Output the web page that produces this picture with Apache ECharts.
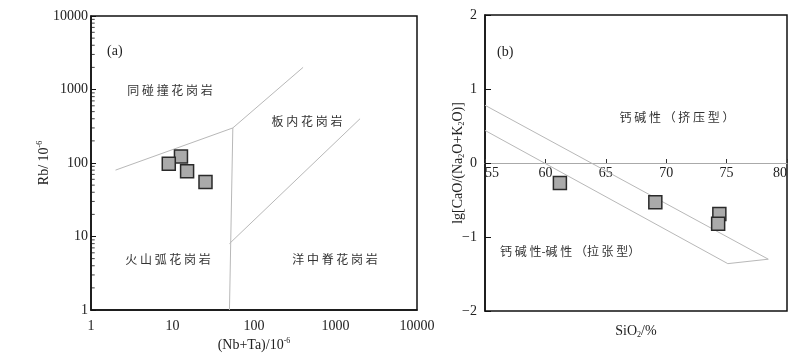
<!DOCTYPE html>
<html><head><meta charset="utf-8">
<script src="https://cdn.jsdelivr.net/npm/echarts@6/dist/echarts.min.js"></script>
<style>html,body{margin:0;padding:0;background:#fff}#c{width:793px;height:364px}</style>
</head><body><div id="c"></div>
<script>
// ---------- Panel (a): Rb vs (Nb+Ta) ----------
const nbTa = [12.7, 9.0, 15.1, 25.4];
const rb = [123, 98, 77, 55];
const xTicksA = [1, 10, 100, 1000, 10000];
const yTicksA = [1, 10, 100, 1000, 10000];
const colgBoundary = [[2, 80], [55, 300], [400, 2000]];
const vagBoundary = [[55, 300], [50, 1]];
const orgBoundary = [[50, 8], [2000, 400]];
const minorMultipliers = [2, 3, 4, 5, 6, 7, 8, 9];
const fieldNamesA = ['同碰撞花岗岩', '板内花岗岩', '火山弧花岗岩', '洋中脊花岗岩'];

// ---------- Panel (b): lg[CaO/(Na2O+K2O)] vs SiO2 ----------
const sio2 = [61.2, 69.1, 74.4, 74.3];
const lgRatio = [-0.27, -0.53, -0.69, -0.82];
const xTicksB = [55, 60, 65, 70, 75, 80];
const yTicksB = [-2, -1, 0, 1, 2];
const fieldBoundaryB = [[55, 0.78], [78.45, -1.30], [75.1, -1.36], [55, 0.44]];
const fieldNamesB = ['钙碱性（挤压型）', '钙碱性-碱性（拉张型）'];

const serif = '"Liberation Serif","Times New Roman",serif';
const cjk = '"Noto Sans CJK SC","Noto Sans CJK JP",sans-serif';
const txt = '#222';
const rich = {
  sup: {fontFamily: serif, fontSize: 8, color: txt, verticalAlign: 'top', lineHeight: 16},
  sub: {fontFamily: serif, fontSize: 8, color: txt, verticalAlign: 'bottom', lineHeight: 16},
  n: {fontFamily: serif, fontSize: 14, color: txt, lineHeight: 16}
};
const nameStyle = {fontFamily: serif, fontSize: 14, color: txt, rich: rich};
const tickFont = {fontFamily: serif, fontSize: 14, color: txt};

const minorTicks = [];
yTicksA.slice(0, -1).forEach(d => minorMultipliers.forEach(m => minorTicks.push([xTicksA[0], d * m])));

const spaced = s => s.split('').join(' ');

const gridB = {left: 485, top: 15, width: 302, height: 296};
// offset that lifts panel (b)'s x axis from the grid bottom to the y = 0 line
const zeroOffsetB = -gridB.height * (0 - yTicksB[0]) / (yTicksB[yTicksB.length - 1] - yTicksB[0]);

const chart = echarts.init(document.getElementById('c'), null, {renderer: 'canvas'});
chart.setOption({
  animation: false,
  backgroundColor: '#fff',
  grid: [
    {left: 91, top: 16, width: 326, height: 294, show: true, borderColor: '#111', borderWidth: 1.5, outerBoundsMode: 'none', containLabel: false},
    Object.assign({show: true, borderColor: '#111', borderWidth: 1.5, outerBoundsMode: 'none', containLabel: false}, gridB)
  ],
  xAxis: [
    {
      gridIndex: 0, type: 'log', logBase: 10, min: xTicksA[0], max: xTicksA[xTicksA.length - 1],
      axisLine: {show: true, lineStyle: {color: '#111', width: 1.5}},
      axisTick: {show: false}, splitLine: {show: false},
      axisLabel: Object.assign({margin: 9, formatter: v => String(v)}, tickFont),
      name: '{n|(Nb+Ta)/10}{sup|-6}', nameLocation: 'middle', nameGap: 27, nameMoveOverlap: false, nameTextStyle: nameStyle
    },
    {
      gridIndex: 1, type: 'value', min: xTicksB[0], max: xTicksB[xTicksB.length - 1], interval: 5,
      position: 'bottom', offset: zeroOffsetB,
      axisLine: {show: true, onZero: false, lineStyle: {color: '#aaa', width: 1}},
      axisTick: {show: true, inside: true, length: 4, lineStyle: {color: '#333', width: 1}},
      splitLine: {show: false},
      axisLabel: Object.assign({margin: 3, alignMinLabel: 'left', alignMaxLabel: 'right'}, tickFont),
      name: '{n|SiO}{sub|2}{n|/%}', nameLocation: 'middle', nameGap: 160, nameMoveOverlap: false, nameTextStyle: nameStyle
    }
  ],
  yAxis: [
    {
      gridIndex: 0, type: 'log', logBase: 10, min: yTicksA[0], max: yTicksA[yTicksA.length - 1],
      axisLine: {show: true, lineStyle: {color: '#111', width: 1.5}},
      axisTick: {show: true, inside: true, length: 5, lineStyle: {color: '#111', width: 1}},
      splitLine: {show: false},
      axisLabel: Object.assign({margin: 3, formatter: v => String(v)}, tickFont),
      name: '{n|Rb/ 10}{sup|-6}', nameLocation: 'middle', nameRotate: 90, nameGap: 39, nameMoveOverlap: false, nameTextStyle: nameStyle
    },
    {
      gridIndex: 1, type: 'value', min: yTicksB[0], max: yTicksB[yTicksB.length - 1], interval: 1,
      axisLine: {show: true, onZero: false, lineStyle: {color: '#111', width: 1.5}},
      axisTick: {show: true, inside: true, length: 6, lineStyle: {color: '#111', width: 1}},
      splitLine: {show: false},
      axisLabel: Object.assign({margin: 8, formatter: v => String(v).replace('-', '\u2212')}, tickFont),
      name: '{n|lg[CaO/(Na}{sub|2}{n|O+K}{sub|2}{n|O)]}', nameLocation: 'middle', nameRotate: 90, nameGap: 19, nameMoveOverlap: false, nameTextStyle: nameStyle
    }
  ],
  series: [
    {type: 'line', xAxisIndex: 0, yAxisIndex: 0, data: colgBoundary, symbol: 'none', silent: true, lineStyle: {color: '#b8b8b8', width: 1}},
    {type: 'line', xAxisIndex: 0, yAxisIndex: 0, data: vagBoundary, symbol: 'none', silent: true, lineStyle: {color: '#b8b8b8', width: 1}},
    {type: 'line', xAxisIndex: 0, yAxisIndex: 0, data: orgBoundary, symbol: 'none', silent: true, lineStyle: {color: '#b8b8b8', width: 1}},
    {type: 'scatter', xAxisIndex: 0, yAxisIndex: 0, data: minorTicks, symbol: 'rect', symbolSize: [3, 1], symbolOffset: [2.2, 0], silent: true, clip: false, itemStyle: {color: '#111'}},
    {type: 'scatter', xAxisIndex: 0, yAxisIndex: 0, data: nbTa.map((x, i) => [x, rb[i]]), symbol: 'rect', symbolSize: 13, z: 5,
      itemStyle: {color: '#aaaaaa', borderColor: '#2a2a2a', borderWidth: 1.5, opacity: 1}},
    {type: 'line', xAxisIndex: 1, yAxisIndex: 1, data: fieldBoundaryB, symbol: 'none', silent: true, lineStyle: {color: '#b8b8b8', width: 1}},
    {type: 'scatter', xAxisIndex: 1, yAxisIndex: 1, data: sio2.map((x, i) => [x, lgRatio[i]]), symbol: 'rect', symbolSize: 13, z: 5,
      itemStyle: {color: '#aaaaaa', borderColor: '#2a2a2a', borderWidth: 1.5, opacity: 1}}
  ],
  graphic: [
    {type: 'text', x: 107, y: 51, style: {text: '(a)', font: '14px ' + serif, fill: txt, align: 'left', verticalAlign: 'middle'}},
    {type: 'text', x: 170, y: 90, style: {text: spaced(fieldNamesA[0]), font: '12px ' + cjk, fill: '#333', align: 'center', verticalAlign: 'middle'}},
    {type: 'text', x: 307, y: 121, style: {text: spaced(fieldNamesA[1]), font: '12px ' + cjk, fill: '#333', align: 'center', verticalAlign: 'middle'}},
    {type: 'text', x: 168, y: 259, style: {text: spaced(fieldNamesA[2]), font: '12px ' + cjk, fill: '#333', align: 'center', verticalAlign: 'middle'}},
    {type: 'text', x: 335, y: 259, style: {text: spaced(fieldNamesA[3]), font: '12px ' + cjk, fill: '#333', align: 'center', verticalAlign: 'middle'}},
    {type: 'text', x: 497, y: 52, style: {text: '(b)', font: '14px ' + serif, fill: txt, align: 'left', verticalAlign: 'middle'}},
    {type: 'text', x: 677, y: 117, style: {text: spaced(fieldNamesB[0]), font: '12px ' + cjk, fill: '#333', align: 'center', verticalAlign: 'middle'}},
    {type: 'text', x: 500, y: 251, style: {text: '钙 碱 性-碱 性 （拉 张 型）', font: '12px ' + cjk, fill: '#333', align: 'left', verticalAlign: 'middle'}}
  ]
});
</script>
</body></html>
